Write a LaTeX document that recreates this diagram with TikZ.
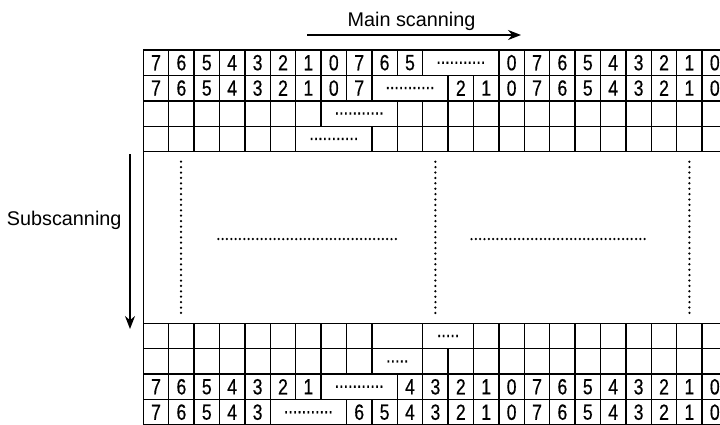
\documentclass[tikz,border=0pt]{standalone}
\usepackage{fontspec}
\setmainfont{Liberation Sans}
\newfontfamily\narrowfont[FakeStretch=0.8,FakeBold=0.4]{Liberation Sans}
\usetikzlibrary{arrows.meta}
\newcommand{\gx}{143.3}
\newcommand{\cw}{25.4}
\newcommand{\dl}{{\fontsize{20}{20}\selectfont ...........}}
\newcommand{\ds}{{\fontsize{20}{20}\selectfont .....}}
\tikzset{
  cellbox/.style={draw, line width=1.4pt, rectangle, anchor=north west,
    inner sep=0pt, outer sep=0pt, minimum width=25.4pt, minimum height=25.4pt,
    font=\narrowfont\fontsize{22}{22}\selectfont},
  lbl/.style={font=\fontsize{19.8}{20}\selectfont, inner sep=0pt},
  scanarrow/.style={line width=1.3pt, -{Stealth[length=13pt,width=10pt]}},
  vdots/.style={line width=2.5pt, line cap=round, dash pattern=on 0pt off 5.4pt},
  hdots/.style={line width=2.5pt, line cap=round, dash pattern=on 0pt off 4.33pt}
}
\begin{document}
\begin{tikzpicture}[x=1pt,y=-1pt]
\useasboundingbox (0,0) rectangle (720,424);
\clip (0,0) rectangle (720,424);

% ---- top row 1
\foreach \c/\l in {0/7,1/6,2/5,3/4,4/3,5/2,6/1,7/0,8/7,9/6,10/5,14/0,15/7,16/6,17/5,18/4,19/3,20/2,21/1,22/0}
  \node[cellbox] (ta\c) at ({\gx+\c*\cw},50) {\l};
\node[cellbox, minimum width=76.2pt] (ta11) at ({\gx+11*\cw},50) {\dl};

% ---- top row 2
\foreach \c/\l in {0/7,1/6,2/5,3/4,4/3,5/2,6/1,7/0,8/7,12/2,13/1,14/0,15/7,16/6,17/5,18/4,19/3,20/2,21/1,22/0}
  \node[cellbox] (tb\c) at ({\gx+\c*\cw},75.4) {\l};
\node[cellbox, minimum width=76.2pt] (tb9) at ({\gx+9*\cw},75.4) {\dl};

% ---- top row 3
\foreach \c in {0,...,6,10,11,...,22}
  \node[cellbox] (tc\c) at ({\gx+\c*\cw},100.8) {};
\node[cellbox, minimum width=76.2pt] (tc7) at ({\gx+7*\cw},100.8) {\dl};

% ---- top row 4
\foreach \c in {0,...,5,9,10,...,22}
  \node[cellbox] (td\c) at ({\gx+\c*\cw},126.2) {};
\node[cellbox, minimum width=76.2pt] (td6) at ({\gx+6*\cw},126.2) {\dl};

% ---- large middle region
\node[cellbox, minimum width=584.2pt, minimum height=171.7pt] (big) at (\gx,151.6) {};
\draw[vdots] (181.0,161.7) -- (181.0,313.5);
\draw[vdots] (435.4,161.7) -- (435.4,313.5);
\draw[vdots] (689.4,161.7) -- (689.4,313.5);
\draw[hdots] (218.3,239) -- (396,239);
\draw[hdots] (471.5,239) -- (648,239);

% ---- bottom row 1
\foreach \c in {0,...,8,13,14,...,22}
  \node[cellbox] (ba\c) at ({\gx+\c*\cw},323.3) {};
\node[cellbox, minimum width=50.8pt] (ba9) at ({\gx+9*\cw},323.3) {};
\node[cellbox, minimum width=50.8pt] (ba11) at ({\gx+11*\cw},323.3) {\ds};

% ---- bottom row 2
\foreach \c in {0,...,8,11,12,...,22}
  \node[cellbox] (bb\c) at ({\gx+\c*\cw},348.7) {};
\node[cellbox, minimum width=50.8pt] (bb9) at ({\gx+9*\cw},348.7) {\ds};

% ---- bottom row 3
\foreach \c/\l in {0/7,1/6,2/5,3/4,4/3,5/2,6/1,10/4,11/3,12/2,13/1,14/0,15/7,16/6,17/5,18/4,19/3,20/2,21/1,22/0}
  \node[cellbox] (bc\c) at ({\gx+\c*\cw},374.1) {\l};
\node[cellbox, minimum width=76.2pt] (bc7) at ({\gx+7*\cw},374.1) {\dl};

% ---- bottom row 4
\foreach \c/\l in {0/7,1/6,2/5,3/4,4/3,8/6,9/5,10/4,11/3,12/2,13/1,14/0,15/7,16/6,17/5,18/4,19/3,20/2,21/1,22/0}
  \node[cellbox] (bd\c) at ({\gx+\c*\cw},399.5) {\l};
\node[cellbox, minimum width=76.2pt] (bd5) at ({\gx+5*\cw},399.5) {\dl};

% ---- scanning arrows and labels
\coordinate (ms0) at (307,35);
\coordinate (ms1) at (521,35);
\draw[scanarrow] (ms0) -- (ms1);
\node[lbl, anchor=base] (mslab) at (411.5,26) {Main scanning};

\coordinate (ss0) at (130,154);
\coordinate (ss1) at (130,329);
\draw[scanarrow] (ss0) -- (ss1);
\node[lbl, anchor=base] (sslab) at (64.2,225) {Subscanning};
\end{tikzpicture}
\end{document}
